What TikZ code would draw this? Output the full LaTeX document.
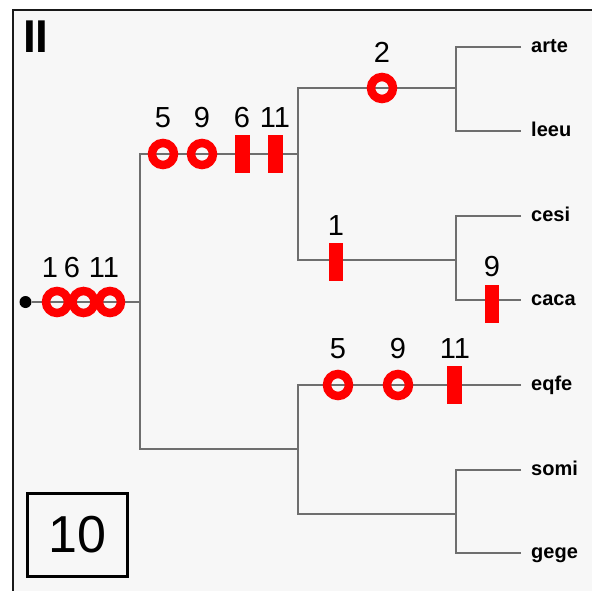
\documentclass[tikz,border=0pt]{standalone}
\usepackage{fontspec}
\setmainfont{Liberation Sans}
\definecolor{bgc}{HTML}{F7F7F7}
\definecolor{brc}{HTML}{6E6E6E}
\definecolor{mk}{HTML}{FF0000}
\begin{document}
\begin{tikzpicture}[x=1pt,y=-1pt,
  br/.style={draw=brc, line width=1.3pt},
  ring/.style={circle, draw=mk, line width=8.5pt, minimum size=22pt, inner sep=0pt},
  bar/.style={rectangle, fill=mk, minimum width=14.5pt, minimum height=38pt, inner sep=0pt},
  num/.style={font=\fontsize{29}{29}\selectfont, inner sep=0pt},
  leaf/.style={font=\bfseries\fontsize{20}{20}\selectfont, anchor=base west, inner sep=0pt}]
\clip (0,0) rectangle (592,590);
\fill[white] (0,0) rectangle (592,590);
\filldraw[fill=bgc, draw=black!90, line width=2pt] (13,9.5) rectangle (620,620);
% title and score box
\node[font=\bfseries\fontsize{46}{46}\selectfont, inner sep=0pt, anchor=north west] (title) at (23,21) {II};
\node[draw=black, line width=3.5pt, minimum width=100pt, minimum height=83pt, inner sep=0pt,
      font=\fontsize{52}{52}\selectfont] (score) at (77.5,535) {10};
% internal nodes and tips
\node[circle, fill=black, minimum size=12pt, inner sep=0pt] (root) at (25.5,302) {};
\coordinate (n1) at (140,302);
\coordinate (A) at (298,154);
\coordinate (D) at (298,449);
\coordinate (B) at (456,88);
\coordinate (C) at (456,260);
\coordinate (E) at (456,514);
\coordinate (tarte) at (521,47);
\coordinate (tleeu) at (521,131);
\coordinate (tcesi) at (521,216);
\coordinate (tcaca) at (521,300);
\coordinate (teqfe) at (521,385);
\coordinate (tsomi) at (521,470);
\coordinate (tgege) at (521,553);
% branches
\draw[br] (root) -- (n1);
\draw[br] (A) -| (n1) |- (D);
\draw[br] (B) -| (A) |- (C);
\draw[br] (tarte) -| (B) |- (tleeu);
\draw[br] (tcesi) -| (C) |- (tcaca);
\draw[br] (teqfe) -| (D) |- (E);
\draw[br] (tsomi) -| (E) |- (tgege);
% leaf labels
\node[leaf] (arte) at (531,52) {arte};
\node[leaf] (leeu) at (531,136) {leeu};
\node[leaf] (cesi) at (531,221) {cesi};
\node[leaf] (caca) at (531,305) {caca};
\node[leaf] (eqfe) at (531,390) {eqfe};
\node[leaf] (somi) at (531,475) {somi};
\node[leaf] (gege) at (531,558) {gege};
% root markers
\node[ring] (r1) at (57,302) {};
\node[ring] (r6) at (83.5,302) {};
\node[ring] (r11) at (110,302) {};
\node[num] (l1) at (50,268) {1};
\node[num] (l6) at (72,268) {6};
\node[num] (l11) at (104,268) {11};
% upper branch markers
\node[ring] (a5) at (163,154) {};
\node[ring] (a9) at (202,154) {};
\node[bar] (a6) at (242.5,154) {};
\node[bar] (a11) at (275.5,154) {};
\node[num] (la5) at (163,118) {5};
\node[num] (la9) at (202,118) {9};
\node[num] (la6) at (242,118) {6};
\node[num] (la11) at (275,118) {11};
% arte/leeu branch
\node[ring] (b2) at (382,88) {};
\node[num] (lb2) at (382,52) {2};
% cesi/caca branch
\node[bar] (c1) at (336,262) {};
\node[num] (lc1) at (336,226) {1};
\node[bar] (k9) at (492,304) {};
\node[num] (lk9) at (492,267) {9};
% eqfe branch
\node[ring] (q5) at (338,385) {};
\node[ring] (q9) at (398,385) {};
\node[bar] (q11) at (454.5,385) {};
\node[num] (lq5) at (338,349) {5};
\node[num] (lq9) at (398,349) {9};
\node[num] (lq11) at (455,349) {11};
\end{tikzpicture}
\end{document}
